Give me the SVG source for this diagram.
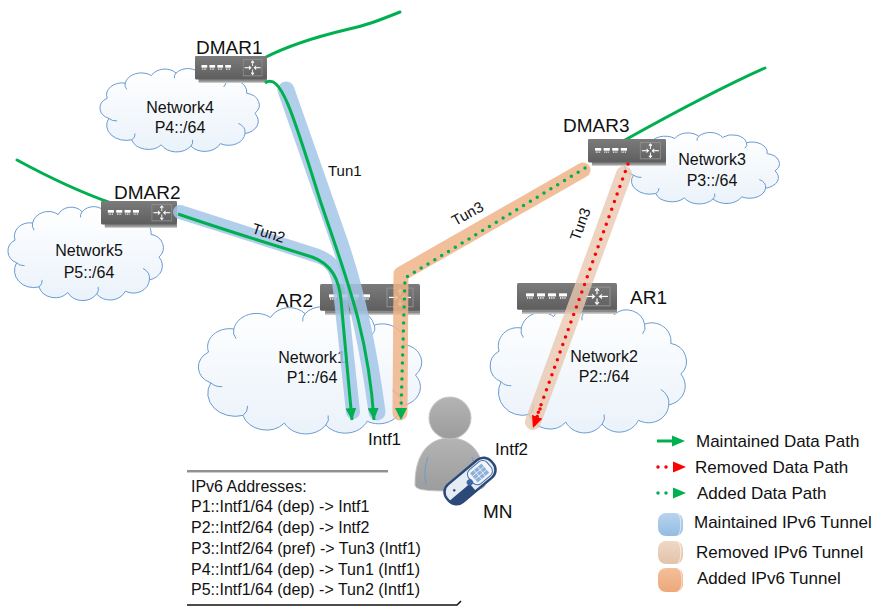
<svg xmlns="http://www.w3.org/2000/svg" xmlns:xlink="http://www.w3.org/1999/xlink" width="884" height="606" viewBox="0 0 884 606">
  <style>
    text { font-family: "Liberation Sans", Arial, sans-serif; fill: #111; }
    .rlabel { font-size: 19px; }
    .net { font-size: 16px; text-anchor: middle; }
    .tun { font-size: 15px; }
    .addr { font-size: 16px; }
    .leg { font-size: 17px; }
    .cloud { fill: url(#cloudFill); stroke: #6a9bd1; stroke-width: 1; }
    .scallop { fill: none; stroke: #6a9bd1; stroke-width: 1; }
    .uplink { fill: none; stroke: #00b050; stroke-width: 3; stroke-linecap: round; }
    .tBlue { fill: none; stroke: #a3c6e8; stroke-opacity: 0.85; stroke-linecap: round; stroke-linejoin: round; }
    .tRem { fill: none; stroke: #e8c8b0; stroke-opacity: 0.8; stroke-linecap: round; stroke-linejoin: round; }
    .tAdd { fill: none; stroke: #f0b48a; stroke-opacity: 0.85; stroke-linecap: round; stroke-linejoin: round; }
    .solid { fill: none; stroke: #00b050; stroke-width: 3; stroke-linejoin: round; }
    .gdots { fill: none; stroke: #00b050; stroke-width: 3.5; stroke-linecap: round; stroke-dasharray: 0 8; }
    .rdots { fill: none; stroke: #ff0000; stroke-width: 3.5; stroke-linecap: round; stroke-dasharray: 0 8; }
  </style>
  <defs>
    <linearGradient id="cloudFill" x1="0" y1="0" x2="0" y2="1">
      <stop offset="0" stop-color="#ffffff"/>
      <stop offset="1" stop-color="#eaf2fa"/>
    </linearGradient>
    <linearGradient id="routerFill" x1="0" y1="0" x2="0" y2="1">
      <stop offset="0" stop-color="#7b7b7b"/>
      <stop offset="1" stop-color="#5e5e5e"/>
    </linearGradient>
    <linearGradient id="personFill" x1="0" y1="0" x2="0" y2="1">
      <stop offset="0" stop-color="#b4b4b4"/>
      <stop offset="1" stop-color="#9c9c9c"/>
    </linearGradient>
    <linearGradient id="cylBlue" x1="0" y1="0" x2="0" y2="1">
      <stop offset="0" stop-color="#b8d3ee"/>
      <stop offset="1" stop-color="#94bce3"/>
    </linearGradient>
    <linearGradient id="cylTan" x1="0" y1="0" x2="0" y2="1">
      <stop offset="0" stop-color="#efd8c7"/>
      <stop offset="1" stop-color="#e3c2aa"/>
    </linearGradient>
    <linearGradient id="cylOrange" x1="0" y1="0" x2="0" y2="1">
      <stop offset="0" stop-color="#f4bf9a"/>
      <stop offset="1" stop-color="#eda77a"/>
    </linearGradient>

    <!-- generic cloud outline in a 100 x 66 box -->
    <path id="cloudShape" vector-effect="non-scaling-stroke"
          d="M6,40 A9,9 0 0 1 5,24 A9.5,9.5 0 0 1 16,12 A10,10 0 0 1 32,6 A9,9 0 0 1 47,4 A9,9 0 0 1 62,5 A9,9 0 0 1 77,10 A9.5,9.5 0 0 1 90,20 A9.5,9.5 0 0 1 95,36 A10,10 0 0 1 89,52 A10,10 0 0 1 74,60 A10.5,10.5 0 0 1 56,62 A10.5,10.5 0 0 1 38,61 A10.5,10.5 0 0 1 20,57 A12,12 0 0 1 6,40 Z"/>
    <path id="cloudInner" vector-effect="non-scaling-stroke"
          d="M6,40 A6,6 0 0 0 11,42 M16,12 A6,6 0 0 0 17,17 M47,4 A5,5 0 0 0 46,8 M77,10 A5,5 0 0 1 76,15 M89,52 A8,8 0 0 0 85,44 M56,62 A6,6 0 0 0 57,57 M20,57 A6,6 0 0 0 22,52"/>

    <!-- switch/router icon -->
    <symbol id="router" viewBox="0 0 100 30" preserveAspectRatio="none">
      <rect x="5" y="25" width="95" height="4" fill="#8a8a8a"/>
      <rect x="5" y="28.5" width="95" height="1.5" fill="#c9c9c9"/>
      <rect x="0" y="0" width="100" height="26" rx="1.5" fill="url(#routerFill)"/>
      <g fill="#ffffff">
        <rect x="9" y="10" width="8" height="3"/>
        <rect x="20" y="10" width="8" height="3"/>
        <rect x="31" y="10" width="8" height="3"/>
        <rect x="42" y="10" width="8" height="3"/>
      </g>
      <g stroke="#ffffff" stroke-width="1.4" stroke-dasharray="1.2 1">
        <line x1="10" y1="14.6" x2="16.5" y2="14.6"/>
        <line x1="21" y1="14.6" x2="27.5" y2="14.6"/>
        <line x1="32" y1="14.6" x2="38.5" y2="14.6"/>
        <line x1="43" y1="14.6" x2="49.5" y2="14.6"/>
      </g>
      <rect x="67" y="4" width="26" height="18" fill="none" stroke="#929292" stroke-width="1"/>
      <g stroke="#ffffff" stroke-width="1.2" fill="none">
        <line x1="69" y1="13" x2="77" y2="13"/>
        <polyline points="75,11 77.5,13 75,15"/>
        <line x1="91" y1="13" x2="83" y2="13"/>
        <polyline points="85,11 82.5,13 85,15"/>
        <line x1="80" y1="11" x2="80" y2="5.5"/>
        <polyline points="78,7.5 80,5.5 82,7.5"/>
        <line x1="80" y1="15" x2="80" y2="20.5"/>
        <polyline points="78,18.5 80,20.5 82,18.5"/>
      </g>
    </symbol>

    <marker id="arrowGreen" viewBox="0 0 12 11" refX="12" refY="5.5" markerWidth="12" markerHeight="11" markerUnits="userSpaceOnUse" orient="auto">
      <path d="M0,0 L12,5.5 L0,11 Z" fill="#00b050"/>
    </marker>
    <marker id="arrowRed" viewBox="0 0 12 11" refX="12" refY="5.5" markerWidth="12" markerHeight="11" markerUnits="userSpaceOnUse" orient="auto">
      <path d="M0,0 L12,5.5 L0,11 Z" fill="#ff0000"/>
    </marker>
  </defs>

  <rect width="884" height="606" fill="#ffffff"/>

  <!-- networks -->
  <g id="network4">
    <use href="#cloudShape" class="cloud" transform="translate(99,68) scale(1.64,1.26)"/>
    <use href="#cloudInner" class="scallop" transform="translate(99,68) scale(1.64,1.26)"/>
    <text class="net" x="180" y="113">Network4</text>
    <text class="net" x="180" y="133">P4::/64</text>
  </g>
  <g id="network5">
    <use href="#cloudShape" class="cloud" transform="translate(7,206) scale(1.6,1.42)"/>
    <use href="#cloudInner" class="scallop" transform="translate(7,206) scale(1.6,1.42)"/>
    <text class="net" x="89" y="256">Network5</text>
    <text class="net" x="89" y="278">P5::/64</text>
  </g>
  <g id="network3">
    <use href="#cloudShape" class="cloud" transform="translate(624,132) scale(1.59,1.08)"/>
    <use href="#cloudInner" class="scallop" transform="translate(624,132) scale(1.59,1.08)"/>
    <text class="net" x="712" y="165">Network3</text>
    <text class="net" x="712" y="186">P3::/64</text>
  </g>
  <g id="network1">
    <use href="#cloudShape" class="cloud" transform="translate(197,306) scale(2.3,1.92)"/>
    <use href="#cloudInner" class="scallop" transform="translate(197,306) scale(2.3,1.92)"/>
    <text class="net" x="312" y="363">Network1</text>
    <text class="net" x="312" y="383">P1::/64</text>
  </g>
  <g id="network2">
    <use href="#cloudShape" class="cloud" transform="translate(489,305) scale(2.02,1.92)"/>
    <use href="#cloudInner" class="scallop" transform="translate(489,305) scale(2.02,1.92)"/>
    <text class="net" x="604" y="362">Network2</text>
    <text class="net" x="604" y="382">P2::/64</text>
  </g>

  <!-- upstream links of the mobility anchors -->
  <g id="uplinks">
    <path class="uplink" d="M266,57 C290,45 320,36 345,30 C365,26 380,20 400,12"/>
    <path class="uplink" d="M17,160 C50,178 80,192 111,203"/>
    <path class="uplink" d="M625,140 C670,115 720,88 765,68"/>
  </g>

  <!-- routers -->
  <g id="DMAR1">
    <use href="#router" x="195" y="56" width="72" height="27"/>
    <text class="rlabel" x="196" y="54">DMAR1</text>
  </g>
  <g id="DMAR2">
    <use href="#router" x="101" y="201" width="76" height="27"/>
    <text class="rlabel" x="114" y="199">DMAR2</text>
  </g>
  <g id="DMAR3">
    <use href="#router" x="588" y="139" width="78" height="27"/>
    <text class="rlabel" x="563" y="132">DMAR3</text>
  </g>
  <g id="AR2">
    <use href="#router" x="320" y="284" width="100" height="31"/>
    <text class="rlabel" x="276" y="307">AR2</text>
  </g>
  <g id="AR1">
    <use href="#router" x="517" y="283" width="100" height="31"/>
    <text class="rlabel" x="630" y="304">AR1</text>
  </g>

  <!-- mobile node -->
  <g id="MN">
    <path d="M415,484 C415,455 428,438 450,438 C472,438 485,455 485,484 C485,489 480,491 450,491 C420,491 415,489 415,484 Z" fill="url(#personFill)" stroke="#c4c4c4" stroke-width="1"/>
    <circle cx="450" cy="418" r="21" fill="url(#personFill)" stroke="#c4c4c4" stroke-width="1"/>
    <path d="M428,457 Q423,470 426,484" fill="none" stroke="#6b9bd0" stroke-width="1"/>
    <path d="M472,457 Q477,470 474,484" fill="none" stroke="#6b9bd0" stroke-width="1"/>
    <g transform="translate(470,481) rotate(-40)">
      <rect x="-29" y="-11.5" width="58" height="23" rx="10" fill="#e6ecf4" stroke="#2b4a7a" stroke-width="2.5"/>
      <path d="M-29,2 L-2,2 L-2,11.5 L-19,11.5 Q-29,11.5 -29,2 Z" fill="#2b4a7a"/>
      <rect x="1" y="-9" width="24" height="18" rx="6" fill="#f2f5fa" stroke="#4a6fa5" stroke-width="1"/>
      <rect x="5" y="-6" width="15" height="12" fill="#8fb0d8"/>
      <g stroke="#f2f5fa" stroke-width="0.8">
        <line x1="5" y1="-2" x2="20" y2="-2"/>
        <line x1="5" y1="2" x2="20" y2="2"/>
        <line x1="10" y1="-6" x2="10" y2="6"/>
        <line x1="15" y1="-6" x2="15" y2="6"/>
      </g>
      <circle cx="-18" cy="-3" r="1.3" fill="#2b4a7a"/>
      <circle cx="-1" cy="1" r="3.2" fill="#3d68a8"/>
    </g>
    <text x="483" y="518" style="font-size:19px">MN</text>
    <text x="368" y="445" style="font-size:17px">Intf1</text>
    <text x="495" y="455" style="font-size:17px">Intf2</text>
  </g>

  <!-- tunnels and data paths -->
  <g id="connectors">
    <path class="tBlue" stroke-width="17" d="M286,90 L338,238 C350,272 366,330 377,412"/>
    <path class="tBlue" stroke-width="14" d="M180,212 L318,256 C332,261 338,270 340,290 L353,412"/>
    <path class="tRem" stroke-width="16" d="M624,174 L533,422"/>
    <path class="tAdd" stroke-width="15" d="M583,170 L401,274 L400,413"/>

    <path class="solid" marker-end="url(#arrowGreen)" d="M265,83 C280,72 292,110 320,200 C345,275 368,330 374,420"/>
    <path class="solid" marker-end="url(#arrowGreen)" d="M178,214 C230,232 290,250 312,257 C332,264 339,280 341,300 L352,420"/>
    <path class="gdots" d="M585,168 L405,278 L401,410"/>
    <path d="M395,408 L401,420 L407,408 Z" fill="#00b050"/>
    <path class="rdots" d="M628,164 L537,416"/>
    <path class="rdots" stroke-dasharray="none" stroke-width="0" marker-end="url(#arrowRed)" d="M540,409 L533,428"/>

    <text class="tun" x="328" y="176">Tun1</text>
    <text class="tun" transform="translate(267,238) rotate(18)" text-anchor="middle">Tun2</text>
    <text class="tun" transform="translate(470,218) rotate(-29)" text-anchor="middle">Tun3</text>
    <text class="tun" transform="translate(585,226) rotate(-70)" text-anchor="middle">Tun3</text>
  </g>

  <!-- address table -->
  <g id="addresses">
    <line x1="187" y1="471" x2="388" y2="471" stroke="#222" stroke-width="1"/>
    <line x1="187" y1="472.5" x2="388" y2="472.5" stroke="#ccc" stroke-width="1"/>
    <text class="addr" x="191" y="492">IPv6 Addresses:</text>
    <text class="addr" x="191" y="512">P1::Intf1/64 (dep) -&gt; Intf1</text>
    <text class="addr" x="191" y="533">P2::Intf2/64 (dep) -&gt; Intf2</text>
    <text class="addr" x="191" y="554">P3::Intf2/64 (pref) -&gt; Tun3 (Intf1)</text>
    <text class="addr" x="191" y="575">P4::Intf1/64 (dep) -&gt; Tun1 (Intf1)</text>
    <text class="addr" x="191" y="595">P5::Intf1/64 (dep) -&gt; Tun2 (Intf1)</text>
    <path d="M187,605 L457,605 L461,601" fill="none" stroke="#111" stroke-width="1.5"/>
  </g>

  <!-- legend -->
  <g id="legend">
    <line x1="657" y1="441" x2="674" y2="441" stroke="#00b050" stroke-width="3"/>
    <path d="M672,435.5 L685,441 L672,446.5 Z" fill="#00b050"/>
    <text class="leg" x="696" y="447">Maintained Data Path</text>

    <line class="rdots" x1="658" y1="467" x2="668" y2="467"/>
    <path d="M673,461.5 L686,467 L673,472.5 Z" fill="#ff0000"/>
    <text class="leg" x="695" y="473">Removed Data Path</text>

    <line class="gdots" x1="658" y1="493" x2="668" y2="493"/>
    <path d="M673,487.5 L686,493 L673,498.5 Z" fill="#00b050"/>
    <text class="leg" x="697" y="499">Added Data Path</text>

    <rect x="658" y="513" width="25" height="23" rx="8" fill="url(#cylBlue)"/>
    <path d="M678,514 A4,11 0 0 1 678,535" fill="none" stroke="#ffffff" stroke-opacity="0.6"/>
    <text class="leg" x="694" y="528">Maintained IPv6 Tunnel</text>

    <rect x="658" y="541" width="25" height="23" rx="8" fill="url(#cylTan)"/>
    <path d="M678,542 A4,11 0 0 1 678,563" fill="none" stroke="#ffffff" stroke-opacity="0.6"/>
    <text class="leg" x="696" y="558">Removed IPv6 Tunnel</text>

    <rect x="658" y="568" width="25" height="24" rx="8" fill="url(#cylOrange)"/>
    <path d="M678,569 A4,11 0 0 1 678,591" fill="none" stroke="#ffffff" stroke-opacity="0.6"/>
    <text class="leg" x="697" y="584">Added IPv6 Tunnel</text>
  </g>
</svg>
